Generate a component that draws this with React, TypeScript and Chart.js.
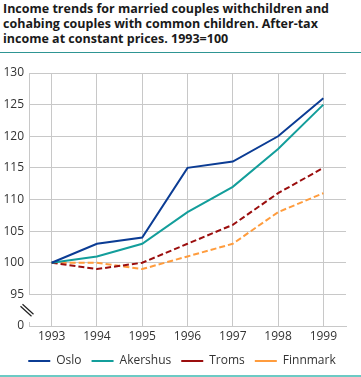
import React, { useEffect, useRef } from 'react';
import { Chart, registerables } from 'chart.js';

Chart.register(...registerables);

const years = [1993, 1994, 1995, 1996, 1997, 1998, 1999];
const oslo = [100, 103, 104, 115, 116, 120, 126];
const akershus = [100, 101, 103, 108, 112, 118, 125];
const troms = [100, 99, 100, 103, 106, 111, 115];
const finnmark = [100, 100, 99, 101, 103, 108, 111];
const yTickValues = [90, 95, 100, 105, 110, 115, 120, 125, 130];
const yTickLabels = ['0', '95', '100', '105', '110', '115', '120', '125', '130'];

const FONT = "'Open Sans', 'Noto Sans', sans-serif";
const GRID = '#c8c8c8';

const breakPlugin = {
  id: 'axisBreak',
  afterLayout(chart: any) {
    if (chart.legend) {
      chart.legend.left += 9;
      chart.legend.right += 9;
    }
  },
  afterDraw(chart: any) {
    const { ctx, chartArea } = chart;
    const y = chart.scales.y;
    const x0 = Math.round(chartArea.left) + 0.5;
    const y95 = y.getPixelForValue(95);
    const bottom = chartArea.bottom;
    ctx.save();
    ctx.strokeStyle = GRID;
    ctx.lineWidth = 1;
    ctx.beginPath();
    ctx.moveTo(x0, chartArea.top);
    ctx.lineTo(x0, y95);
    ctx.moveTo(x0, bottom - 4);
    ctx.lineTo(x0, bottom);
    ctx.stroke();
    const cy = (y95 + bottom) / 2 - 1;
    ctx.strokeStyle = '#222';
    ctx.lineWidth = 1.2;
    ctx.beginPath();
    ctx.moveTo(x0 - 7, cy - 5);
    ctx.lineTo(x0 + 4, cy + 5);
    ctx.moveTo(x0 - 9, cy - 3);
    ctx.lineTo(x0 + 2, cy + 7);
    ctx.stroke();
    ctx.restore();
  },
};

export default function App() {
  const ref = useRef<HTMLCanvasElement>(null);
  useEffect(() => {
    document.body.style.margin = '0';
    const mk = (arr: number[]) => years.map((yr, i) => ({ x: yr, y: arr[i] }));
    const chart = new Chart(ref.current as HTMLCanvasElement, {
      type: 'line',
      data: {
        datasets: [
          { label: 'Oslo', data: mk(oslo), borderColor: '#0b3c94', backgroundColor: '#0b3c94', borderWidth: 2, pointRadius: 0, fill: false },
          { label: 'Akershus', data: mk(akershus), borderColor: '#139e9b', backgroundColor: '#139e9b', borderWidth: 2, pointRadius: 0, fill: false },
          { label: 'Troms', data: mk(troms), borderColor: '#9b0e0e', backgroundColor: '#9b0e0e', borderWidth: 2, borderDash: [6, 3], pointRadius: 0, fill: false },
          { label: 'Finnmark', data: mk(finnmark), borderColor: '#ff9c3d', backgroundColor: '#ff9c3d', borderWidth: 2, borderDash: [6, 3], pointRadius: 0, fill: false },
        ],
      },
      options: {
        animation: false,
        responsive: false,
        layout: { padding: { top: 18, right: 15, left: 0, bottom: 0 } },
        scales: {
          x: {
            type: 'linear',
            min: 1992.5,
            max: 1999.5,
            afterBuildTicks: (s: any) => { s.ticks = years.map((v) => ({ value: v })); },
            afterFit: (s: any) => { s.height = 19; },
            grid: { color: GRID, drawTicks: false },
            border: { display: true, color: GRID },
            ticks: { padding: 3, color: '#333', font: { family: FONT, size: 12 }, callback: (v: any) => String(v), maxRotation: 0 },
          },
          y: {
            type: 'linear',
            min: 90,
            max: 130,
            afterBuildTicks: (s: any) => { s.ticks = yTickValues.map((v) => ({ value: v })); },
            afterFit: (s: any) => { s.width = 29; },
            grid: { color: GRID, drawTicks: false },
            border: { display: false },
            ticks: {
              padding: 5,
              color: '#333',
              font: { family: FONT, size: 12 },
              callback: (v: any) => { const i = yTickValues.indexOf(Number(v)); return i >= 0 ? yTickLabels[i] : ''; },
            },
          },
        },
        plugins: {
          legend: {
            position: 'bottom',
            labels: {
              usePointStyle: true,
              pointStyle: 'line',
              pointStyleWidth: 22,
              boxHeight: 12,
              padding: 10,
              color: '#333',
              font: { family: FONT, size: 12 },
            },
          },
          tooltip: { enabled: false },
        },
      },
      plugins: [breakPlugin],
    } as any);
    return () => chart.destroy();
  }, []);

  return (
    <div style={{ position: 'relative', width: 361, height: 377, background: '#fff', overflow: 'hidden' }}>
      <div style={{ position: 'absolute', left: 3, top: 1, fontFamily: FONT, fontWeight: 700, fontSize: 12.5, lineHeight: '15px', color: '#1a1a1a', whiteSpace: 'nowrap' }}>
        Income trends for married couples withchildren and<br />
        cohabing couples with common children. After-tax<br />
        income at constant prices. 1993=100
      </div>
      <div style={{ position: 'absolute', left: 0, top: 52, width: 361, height: 1, background: '#2e9593' }} />
      <canvas ref={ref} width={361} height={322} style={{ position: 'absolute', left: 0, top: 55, display: 'block' }} />
      <div style={{ position: 'absolute', left: 0, top: 375, width: 361, height: 2, background: '#6ccac4' }} />
    </div>
  );
}
